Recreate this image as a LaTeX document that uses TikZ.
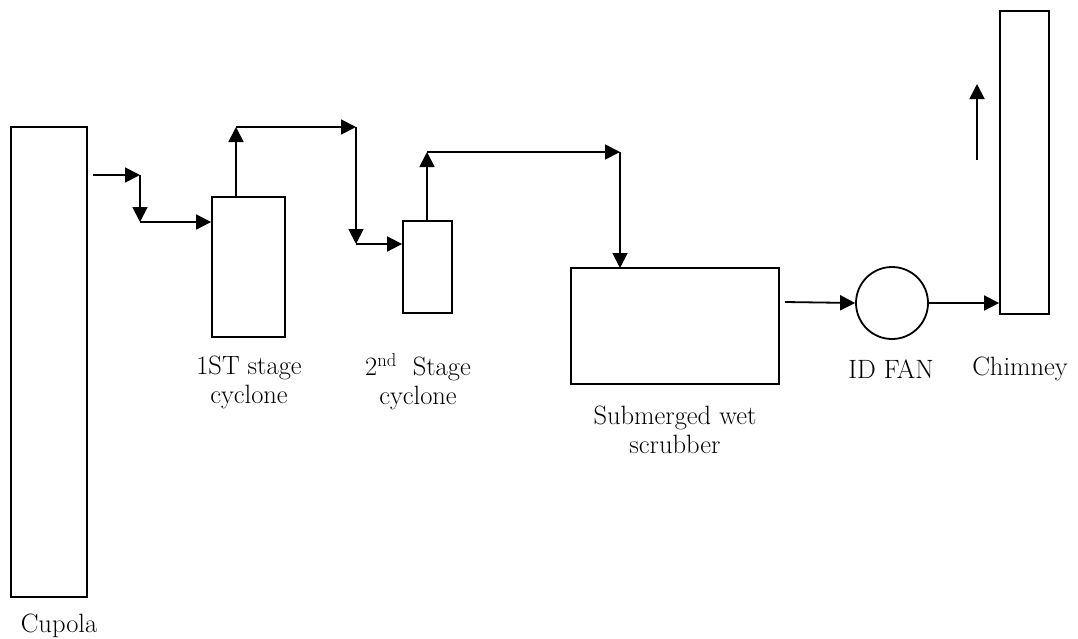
\documentclass[tikz,border=0pt]{standalone}
\usetikzlibrary{arrows.meta}
\begin{document}
\begin{tikzpicture}[x=1pt,y=-1pt,
  box/.style={draw,line width=1.8pt,rectangle,inner sep=0pt},
  flow/.style={line width=1.8pt,-{Triangle[length=15pt,width=15pt]}},
  lbl/.style={align=center,inner sep=0pt,font=\fontsize{26.5}{29}\selectfont}]
\useasboundingbox (0,0) rectangle (1078,638);
\node[box,minimum width=76pt,minimum height=470pt] (cupola) at (49,362) {};
\node[box,minimum width=73pt,minimum height=140pt] (c1) at (248.5,267) {};
\node[box,minimum width=49pt,minimum height=92pt] (c2) at (427.5,267) {};
\node[box,minimum width=208pt,minimum height=116pt] (scrub) at (675,326) {};
\node[draw,line width=1.8pt,circle,minimum size=72pt,inner sep=0pt] (fan) at (892,303) {};
\node[box,minimum width=49pt,minimum height=303pt] (chim) at (1024.5,162.5) {};

\coordinate (s0) at (93,175);
\coordinate (s1) at (140,175);
\coordinate (s2) at (140,222);
\coordinate (s3) at (c1.west |- s2);
\coordinate (t0) at (236,197);
\coordinate (t1) at (236,127);
\coordinate (t2) at (356,127);
\coordinate (t3) at (356,244);
\coordinate (t4) at (c2.west |- t3);
\coordinate (u0) at (427,221);
\coordinate (u1) at (427,152);
\coordinate (u2) at (620,152);
\coordinate (u3) at (620,268);
\coordinate (v0) at (785,302);
\coordinate (w0) at (977,160);
\coordinate (w1) at (977,84);

\draw[flow] (s0) -- (s1);
\draw[flow] (s1) -- (s2);
\draw[flow] (s2) -- (s3);
\draw[flow] (t0) -- (t1);
\draw[flow] (t1) -- (t2);
\draw[flow] (t2) -- (t3);
\draw[flow] (t3) -- (t4);
\draw[flow] (u0) -- (u1);
\draw[flow] (u1) -- (u2);
\draw[flow] (u2) -- (u3);
\draw[flow] (v0) -- (fan.west);
\draw[flow] (fan.east) -- (chim.west |- fan.east);
\draw[flow] (w0) -- (w1);

\node[lbl] (l1) at (249,382) {1ST stage\\cyclone};
\node[lbl] (l2) at (418,382) {2\textsuperscript{nd}\ \ Stage\\cyclone};
\node[lbl] (l3) at (675,430) {Submerged wet\\scrubber};
\node[lbl] (l4) at (891,369) {ID FAN};
\node[lbl] (l5) at (1020,369) {Chimney};
\node[lbl] (l6) at (59,626) {Cupola};
\end{tikzpicture}
\end{document}
